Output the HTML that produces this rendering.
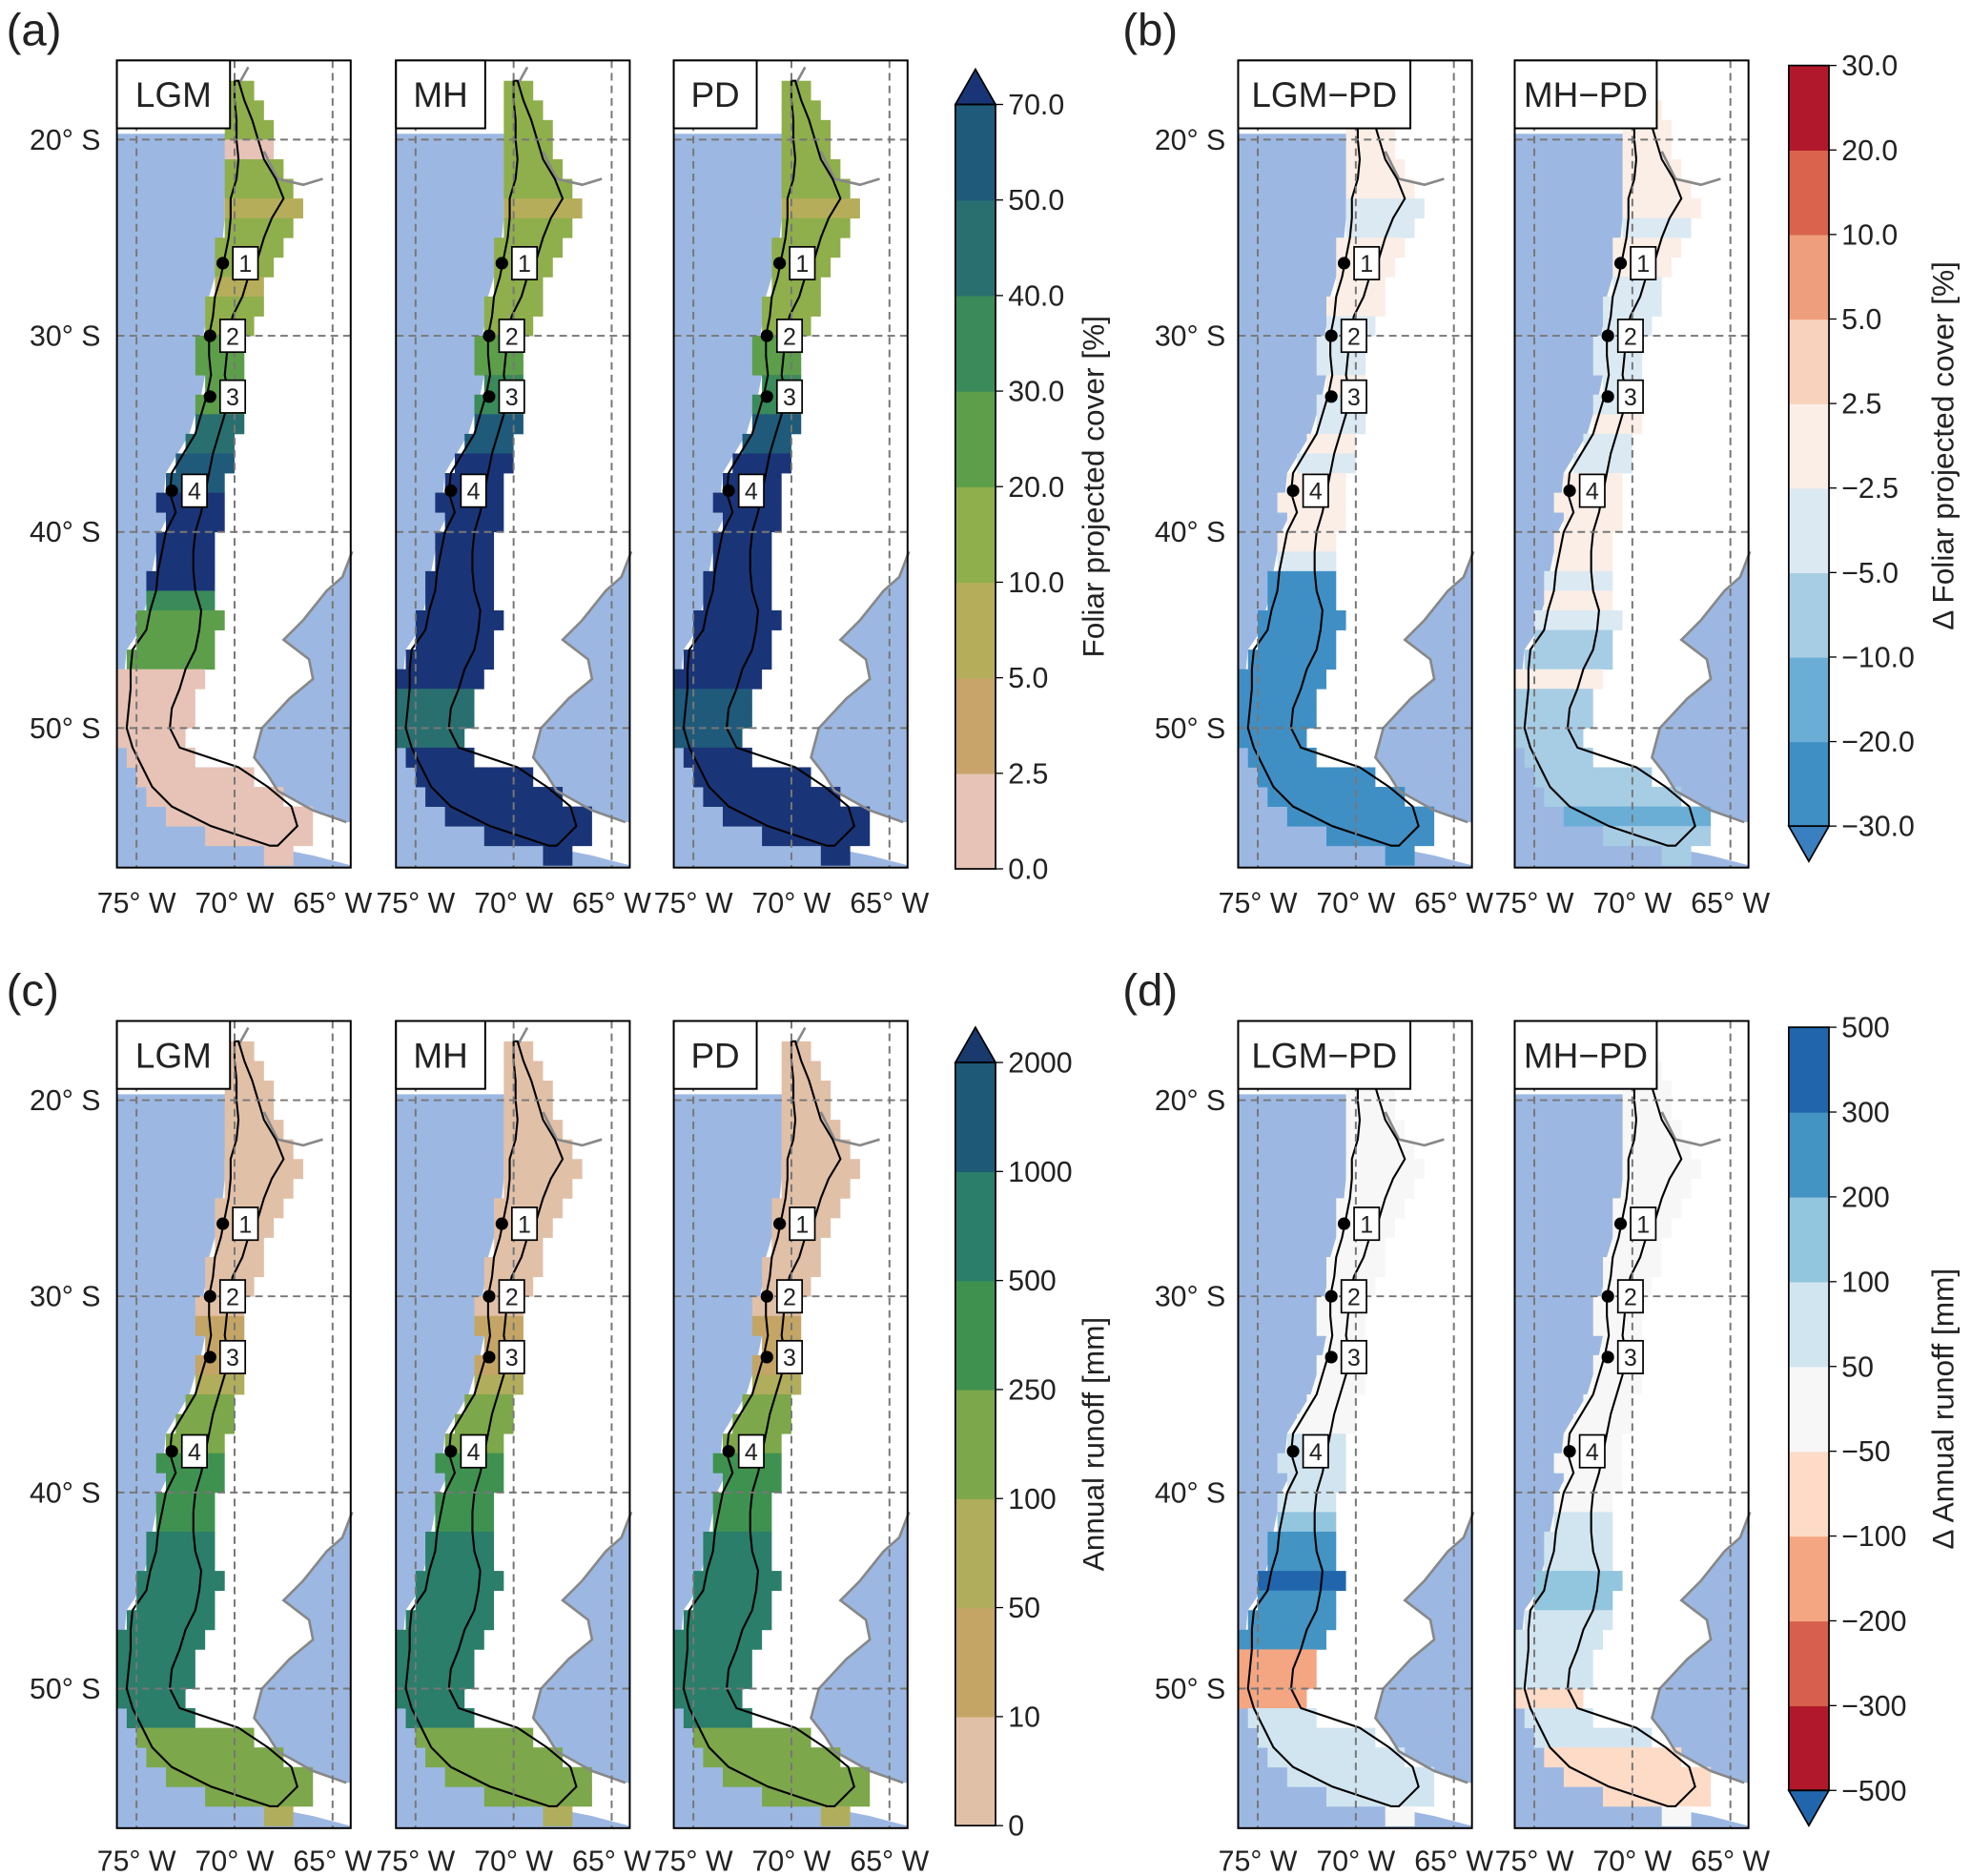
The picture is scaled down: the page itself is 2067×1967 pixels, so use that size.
<!DOCTYPE html>
<html><head><meta charset="utf-8"><style>
html,body{margin:0;padding:0;background:#fff}
svg{display:block}
text{font-family:"Liberation Sans",sans-serif;fill:#222}
</style></head><body>
<svg id="fig" width="2067" height="1967" viewBox="0 0 1568 1492" xmlns="http://www.w3.org/2000/svg"></svg>
<script>
// ---- data ----
const lats = [17,18,19,20,21,22,23,24,25,26,27,28,29,30,31,32,33,34,35,36,37,38,39,40,41,42,43,44,45,46,47,48,49,50,51,52,53,54,55,56];
const coastW = [-70.3,-70.3,-70.2,-70.2,-70.1,-70.2,-70.5,-70.5,-70.6,-70.8,-71,-71.3,-71.4,-71.6,-71.6,-71.5,-71.7,-72,-72.3,-72.9,-73.5,-73.6,-73.3,-73.8,-74,-74.2,-74.3,-74.6,-74.8,-75.5,-75.6,-75.6,-75.7,-75.8,-75.5,-75,-74.5,-73.5,-71.5,-68.5];
const borderE = [-69.5,-69.2,-68.8,-68.5,-68.2,-67.6,-67.2,-67.8,-68.2,-68.5,-69,-69.3,-69.8,-70,-70.1,-70.2,-70,-70.2,-70.5,-70.8,-71,-71.2,-71.4,-71.7,-71.8,-71.8,-71.7,-71.4,-71.5,-71.7,-72.2,-72.5,-72.9,-73,-72.5,-69.5,-68,-66.8,-66.5,-67.5];
const lgmCover = [15,15,12,1,15,12,8,12,10,10,8,10,12,20,20,25,25,45,45,55,60,75,75,75,75,75,30,25,25,20,1,1,1,1,1,1,1,1,1,1];
const mhCover = [15,15,12,12,15,12,8,12,12,12,10,12,15,25,25,30,30,55,60,75,75,75,75,75,75,75,75,75,75,75,75,45,40,40,75,75,75,75,75,75];
const pdCover = [15,15,12,12,15,12,8,12,12,12,10,12,15,25,25,30,30,55,60,75,75,75,75,75,75,75,75,75,75,75,75,55,50,50,75,75,75,75,75,75];
const lgmPdCover = [0,0,0,0,0,0,-3,-3,0,0,0,0,-3,-3,-3,0,-3,-3,0,-3,0,1,1,1,-3,-25,-25,-25,-25,-25,-25,-25,-25,-25,-25,-25,-25,-25,-25,-25];
const mhPdCover = [1,1,1,1,1,1,1,-3,1,1,-3,-3,-3,-3,-3,-3,-3,1,-3,-3,1,1,1,1,1,-3,1,-3,-7,-7,1,-7,-7,-7,-7,-7,-7,-12,-7,-7];
const lgmRun = [5,5,5,5,5,5,5,5,5,5,5,5,5,5,30,30,30,80,150,150,200,300,300,400,400,500,600,700,800,800,800,900,900,700,600,150,150,150,150,80];
const mhRun = [5,5,5,5,5,5,5,5,5,5,5,5,5,5,30,30,30,80,150,150,200,300,300,400,400,500,600,700,700,700,800,800,800,700,600,150,150,150,150,80];
const pdRun = [5,5,5,5,5,5,5,5,5,5,5,5,5,5,30,30,30,80,150,150,200,300,300,400,400,500,600,700,700,700,800,800,800,700,600,150,150,150,150,80];
const lgmPdRun = [0,0,0,0,0,0,0,0,0,0,0,0,0,0,0,0,0,0,0,0,70,70,70,70,150,250,250,350,250,250,250,-150,-150,-120,70,70,70,70,70,0];
const mhPdRun = [0,0,0,0,0,0,0,0,0,0,0,0,0,0,0,0,0,0,0,0,0,0,0,0,70,70,80,120,120,80,80,60,60,-70,60,60,-70,-70,-70,0];
const coverLevels = ["70.0","50.0","40.0","30.0","20.0","10.0","5.0","2.5","0.0"];
const coverBounds = [0,2.5,5,10,20,30,40,50,70];
const coverColors = ["#e6c3b6","#c8a46a","#b6ad5a","#8fae4c","#5d9e4a","#3a8a5a","#2a6f70","#1f5a7a","#1a3577"];
const dCoverLevels = ["30.0","20.0","10.0","5.0","2.5","\u22122.5","\u22125.0","\u221210.0","\u221220.0","\u221230.0"];
const dCoverBounds = [-30,-20,-10,-5,-2.5,2.5,5,10,20,30];
const dCoverColors = ["#3f8fc5","#6aaed6","#a7cde4","#dbe9f3","#fbeee6","#f8d2bc","#ef9e7d","#d9634d","#b2182b"];
const runLevels = ["2000","1000","500","250","100","50","10","0"];
const runBounds = [0,10,50,100,250,500,1000,2000];
const runColors = ["#e1c0a8","#c4a565","#b0ad5d","#7da74b","#3f9150","#2a7e6a","#1e5a78","#1a3a6e"];
const dRunLevels = ["500","300","200","100","50","\u221250","\u2212100","\u2212200","\u2212300","\u2212500"];
const dRunBounds = [-500,-300,-200,-100,-50,50,100,200,300,500];
const dRunColors = ["#b2182b","#d6604d","#f4a582","#fddbc7","#f7f7f7","#d1e5f0","#92c5de","#4393c3","#2166ac"];
const sites = [["1",26.3,-70.6],["2",30.0,-71.25],["3",33.1,-71.25],["4",37.9,-73.2]];

const NS="http://www.w3.org/2000/svg";
const svg=document.getElementById('fig');
function el(tag,attrs,parent){const e=document.createElementNS(NS,tag);for(const k in attrs)e.setAttribute(k,attrs[k]);(parent||svg).appendChild(e);return e;}
function txt(s,attrs,parent){const t=el('text',attrs,parent);t.textContent=s;return t;}
const K=15.6;
function colorOf(v,bounds,colors){for(let i=0;i<bounds.length-1;i++){if(v<bounds[i+1])return colors[i];}return colors[colors.length-1];}

function mapPanel(x0,y20,title,titleW,vals,bounds,colors,name){
  const g=el('g',{});
  
  
  const X=lon=>x0+(lon+76)*K, Y=lat=>y20+(lat-20)*K;
  const top=y20-63,bot=y20+579,right=x0+186;
  el('rect',{x:x0,y:top,width:186,height:bot-top,fill:'#fff'},g);
  let p=[[X(-76),Y(19.7)],[X(-70.2),Y(19.7)]];
  for(let i=3;i<lats.length;i++)p.push([X(coastW[i]),Y(lats[i])]);
  p.push([X(-66),Y(56.5)],[right,Y(57)],[right,bot],[x0,bot]);
  const ocW=el('polygon',{points:p.map(a=>a.join(',')).join(' '),fill:'#9cb8e2'},g);
  
  const east=[[41,-64.0],[42.3,-64.5],[43,-65.3],[44.5,-66.5],[45.5,-67.5],[46.5,-66.2],[47.5,-66],[48.5,-67.2],[50,-68.6],[51.5,-69],[52.4,-68.3],[53.2,-67.8],[54.2,-66],[54.8,-64.3]];
  let q=east.map(a=>[X(a[1]),Y(a[0])]);q.push([right,Y(54.8)],[right,Y(41)]);
  el('polygon',{points:q.map(a=>a.join(',')).join(' '),fill:'#9cb8e2'},g);
  for(let i=0;i<lats.length;i++){
    const c=colorOf(vals[i],bounds,colors);
    const w=Math.floor(coastW[i]*2)/2, e=Math.ceil(borderE[i]*2)/2+0.5;
    for(let s=0;s<2;s++){
      const r=el('rect',{x:X(w),y:Y(lats[i]+s*0.5),width:(e-w)*K,height:K/2+0.3,fill:c},g);
      
    }
  }
  el('polyline',{points:q.slice(0,east.length).map(a=>a.join(',')).join(' '),fill:'none',stroke:'#888',"stroke-width":2},g);
  el('polyline',{points:[[X(-68.5),Y(20.6)],[X(-67.8),Y(22)],[X(-66.5),Y(22.3)],[X(-65.5),Y(22)]].map(a=>a.join(',')).join(' '),fill:'none',stroke:'#888','stroke-width':2},g);
  el('polyline',{points:[[X(-69.8),Y(17.2)],[X(-69.3),Y(16.3)]].map(a=>a.join(',')).join(' '),fill:'none',stroke:'#888','stroke-width':2},g);
  let o=[];for(let i=0;i<lats.length;i++)o.push([X(coastW[i]+0.3),Y(lats[i])]);
  for(let i=lats.length-1;i>=0;i--)o.push([X(borderE[i]-0.3),Y(lats[i])]);
  const ol=el('polygon',{points:o.map(a=>a.join(',')).join(' '),fill:'none',stroke:'#000','stroke-width':1.6},g);
  
  [20,30,40,50].forEach(l=>el('line',{x1:x0,x2:right,y1:Y(l),y2:Y(l),stroke:'#777','stroke-dasharray':'6,4','stroke-width':1.5},g));
  [-75,-70,-65].forEach(l=>el('line',{x1:X(l),x2:X(l),y1:top,y2:bot,stroke:'#777','stroke-dasharray':'6,4','stroke-width':1.5},g));
  sites.forEach(s=>{
    const sx=X(s[2]),sy=Y(s[1]);
    el('circle',{cx:sx,cy:sy,r:5,fill:'#000'},g);
    const b=el('rect',{x:sx+8,y:sy-13,width:20,height:26,fill:'#fff',stroke:'#000','stroke-width':1.3},g);
    
    txt(s[0],{x:sx+18,y:sy+7,'font-size':19,'text-anchor':'middle'},g);
  });
  el('rect',{x:x0,y:top,width:186,height:bot-top,fill:'none',stroke:'#000','stroke-width':1.5},g);
  const tb=el('rect',{x:x0,y:top,width:titleW,height:54,fill:'#fff',stroke:'#000','stroke-width':1.5},g);
  
  txt(title,{x:x0+titleW/2,y:top+37,'font-size':28,'text-anchor':'middle'},g);
}
function latLabels(xr,y20){[20,30,40,50].forEach(l=>{const t=txt(l+'\u00b0 S',{x:xr,y:y20+(l-20)*K+8,'font-size':23,'text-anchor':'end'});});}
function lonLabels(x0s,y){x0s.forEach(x0=>[-75,-70,-65].forEach(l=>{const t=txt(Math.abs(l)+'\u00b0 W',{x:x0+(l+76)*K,y:y,'font-size':23,'text-anchor':'middle'});}));}
function colorbar(x,yTop,yBot,labels,colors,triTop,triBot,label,labOff,name){
  const g=el('g',{});
  const n=labels.length-1, h=(yBot-yTop)/n;
  for(let i=0;i<n;i++)el('rect',{x:x,y:yBot-(i+1)*h,width:32,height:h+0.5,fill:colors[i]},g);
  if(triTop){el('polygon',{points:`${x},${yTop} ${x+16},${yTop-28} ${x+32},${yTop}`,fill:triTop,stroke:'#000','stroke-width':1.3},g);}
  if(triBot){el('polygon',{points:`${x},${yBot} ${x+16},${yBot+28} ${x+32},${yBot}`,fill:triBot,stroke:'#000','stroke-width':1.3},g);}
  el('rect',{x:x,y:yTop,width:32,height:yBot-yTop,fill:'none',stroke:'#000','stroke-width':1.3},g);
  labels.forEach((s,i)=>{const yy=yTop+i*h;el('line',{x1:x+32,x2:x+38,y1:yy,y2:yy,stroke:'#000'},g);txt(s,{x:x+42,y:yy+8,'font-size':23},g);});
  const lx=x+labOff, ly=(yTop+yBot)/2;
  txt(label,{x:lx,y:ly,'font-size':24,'text-anchor':'middle',transform:`rotate(-90 ${lx} ${ly})`},g);
}
[["(a)",5,36],["(b)",893,36],["(c)",5,800],["(d)",893,800]].forEach(a=>{const t=txt(a[0],{x:a[1],y:a[2],'font-size':36});});
// (a)
mapPanel(93,111,'LGM',90,lgmCover,coverBounds,coverColors,'map-a-lgm');
mapPanel(315,111,'MH',71,mhCover,coverBounds,coverColors,'map-a-mh');
mapPanel(536,111,'PD',66,pdCover,coverBounds,coverColors,'map-a-pd');
latLabels(80,111);lonLabels([93,315,536],726);
colorbar(760,83,691,coverLevels,coverColors.slice(0,8),'#1a3577',null,'Foliar projected cover [%]',118,'colorbar-a');
// (b)
mapPanel(985,111,'LGM\u2212PD',137,lgmPdCover,dCoverBounds,dCoverColors,'map-b-lgm-pd');
mapPanel(1205,111,'MH\u2212PD',113,mhPdCover,dCoverBounds,dCoverColors,'map-b-mh-pd');
latLabels(975,111);lonLabels([985,1205],726);
colorbar(1423,52,657,dCoverLevels,dCoverColors,null,'#3a7fbf','\u0394 Foliar projected cover [%]',131,'colorbar-b');
// (c)
mapPanel(93,875,'LGM',90,lgmRun,runBounds,runColors,'map-c-lgm');
mapPanel(315,875,'MH',71,mhRun,runBounds,runColors,'map-c-mh');
mapPanel(536,875,'PD',66,pdRun,runBounds,runColors,'map-c-pd');
latLabels(80,875);lonLabels([93,315,536],1488);
colorbar(760,845,1452,runLevels,runColors.slice(0,7),'#1a3a6e',null,'Annual runoff [mm]',118,'colorbar-c');
// (d)
mapPanel(985,875,'LGM\u2212PD',137,lgmPdRun,dRunBounds,dRunColors,'map-d-lgm-pd');
mapPanel(1205,875,'MH\u2212PD',113,mhPdRun,dRunBounds,dRunColors,'map-d-mh-pd');
latLabels(975,875);lonLabels([985,1205],1488);
colorbar(1423,817,1424,dRunLevels,dRunColors,null,'#2166ac','\u0394 Annual runoff [mm]',131,'colorbar-d');
</script>
</body></html>
